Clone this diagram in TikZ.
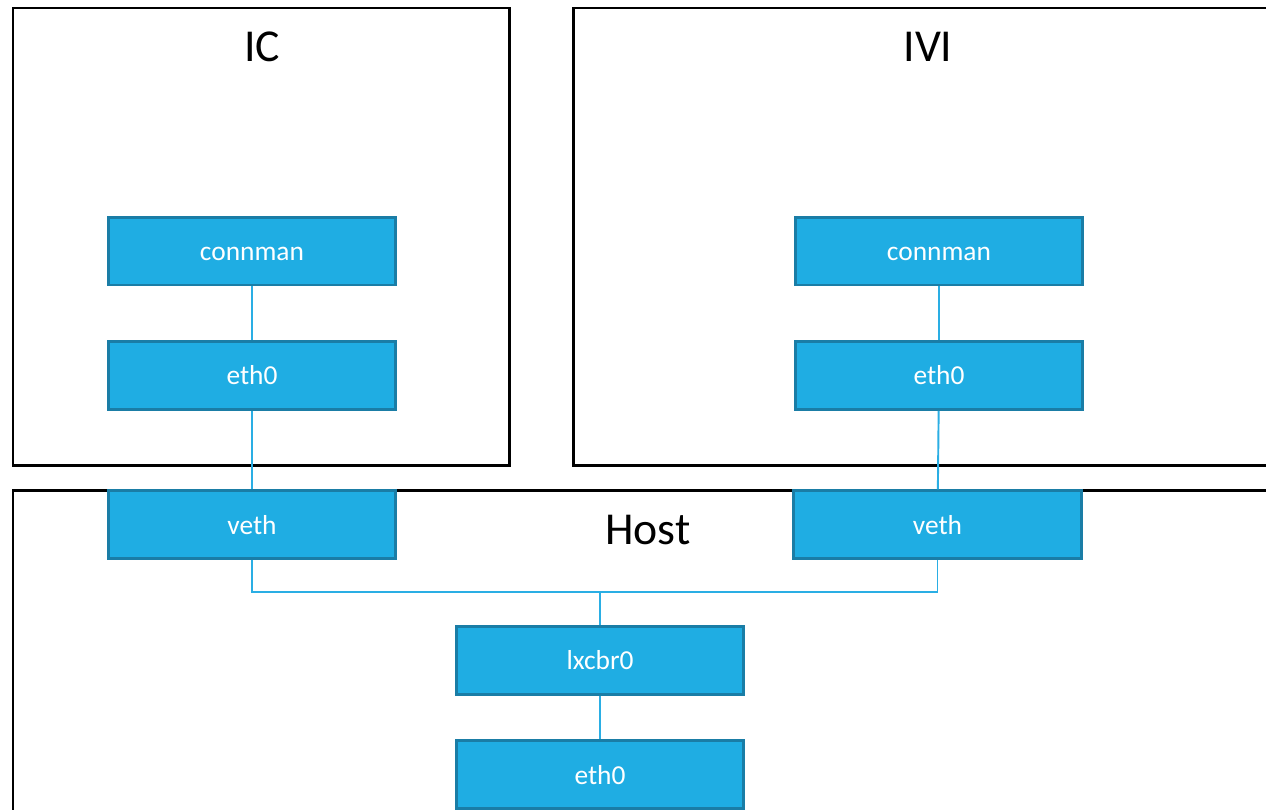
\documentclass[tikz,border=0pt]{standalone}
\usepackage{fontspec}
\setmainfont{Carlito}
\usetikzlibrary{positioning}
\definecolor{boxblue}{HTML}{1FADE3}
\definecolor{boxedge}{HTML}{1A7DA6}
\definecolor{wireblue}{HTML}{2AAEE4}

\begin{document}
\begin{tikzpicture}[x=0.02cm, y=-0.02cm,
    iface/.style={draw=boxedge, fill=boxblue, line width=1.7pt,
      minimum width=5.76cm, minimum height=1.36cm, inner sep=0pt,
      text=white, text height=1.07em, text depth=0pt,
      font=\fontsize{15.6}{18}\selectfont},
    wire/.style={draw=wireblue, line width=1.1pt},
    container/.style={draw=black, line width=1.7pt},
    title/.style={font=\fontsize{26}{30}\selectfont}]
    \useasboundingbox (0,0) rectangle (1266,809);
    \clip (0,0) rectangle (1266,809);

    % containers
    \draw[container] (13,8) rectangle (509,465);
    \draw[container] (573,8) rectangle (1290,465);
    \draw[container] (13,490) rectangle (1290,840);
    \node[title] (ictitle) at (262,47) {IC};
    \node[title] (ivititle) at (928,47) {IVI};
    \node[title] (hosttitle) at (648,530) {Host};

    % IC side
    \node[iface] (icconn) at (252,251) {connman};
    \node[iface, below=1.07cm of icconn] (iceth) {eth0};
    \node[iface, below=1.57cm of iceth] (icveth) {veth};

    % IVI side
    \node[iface] (iviconn) at (939,251) {connman};
    \node[iface, below=1.07cm of iviconn] (ivieth) {eth0};
    \node[iface, below=1.57cm of ivieth, xshift=-0.03cm] (iviveth) {veth};

    % host bridge
    \node[iface] (lxcbr) at (600,660) {lxcbr0};
    \node[iface, below=0.88cm of lxcbr] (hosteth) {eth0};
    \coordinate (bus) at (600,592);

    \draw[wire] (icconn) -- (iceth);
    \draw[wire] (iceth) -- (icveth);
    \draw[wire] (iviconn) -- (ivieth);
    \draw[wire] (ivieth) -- (iviveth);
    \draw[wire] (icveth.south) |- (bus) -| (iviveth.south);
    \draw[wire] (bus) -- (lxcbr);
    \draw[wire] (lxcbr) -- (hosteth);
\end{tikzpicture}
\end{document}
